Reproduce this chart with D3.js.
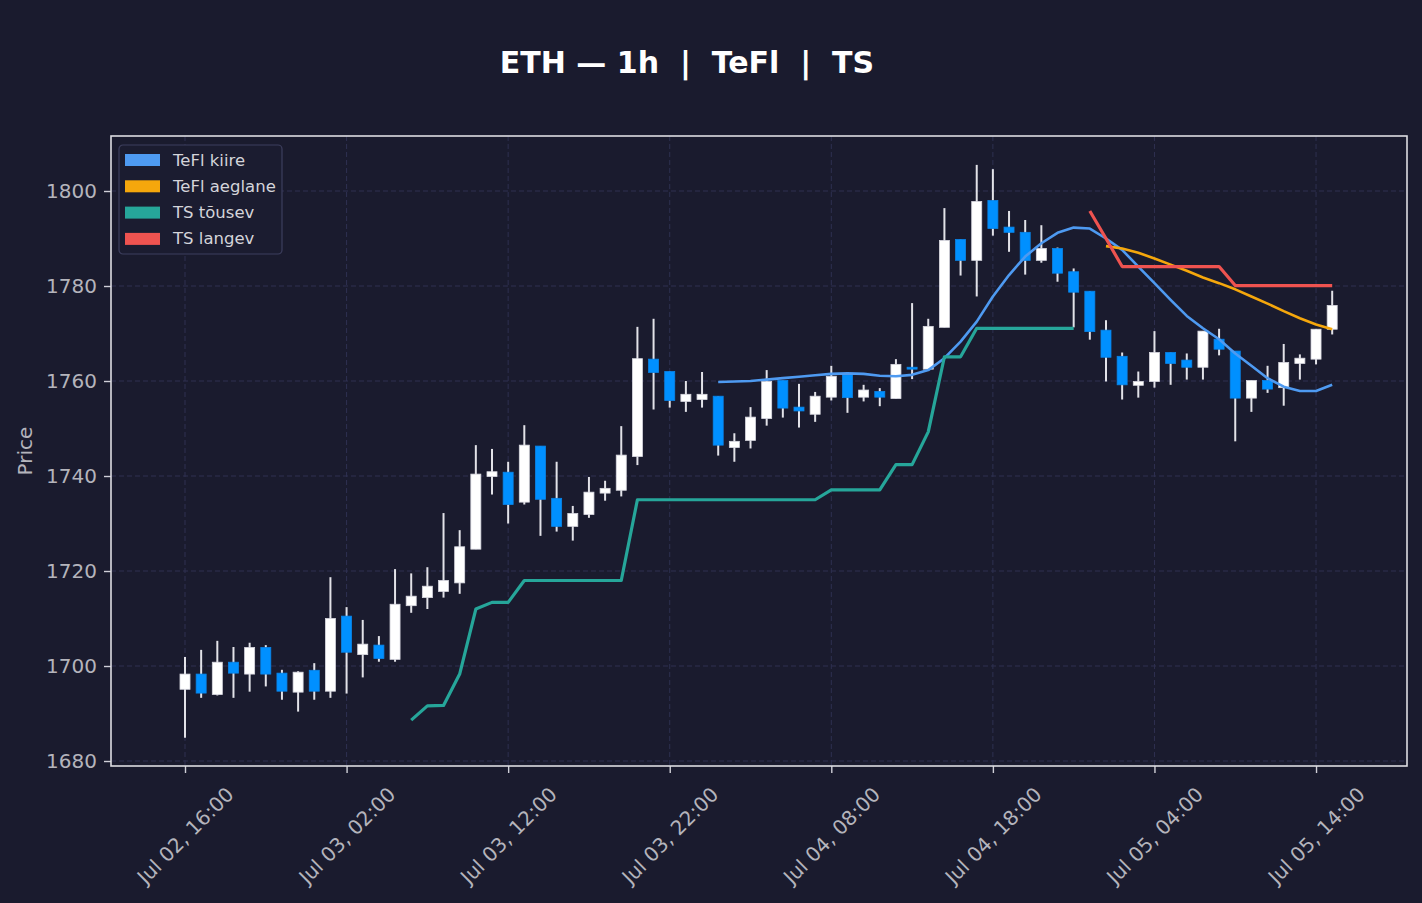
<!DOCTYPE html>
<html>
<head>
<meta charset="utf-8">
<script src="https://cdn.jsdelivr.net/npm/d3@7"></script>
<style>
  body { margin: 0; background: #1a1b2e; }
  svg { display: block; font-family: "DejaVu Sans", sans-serif; }
</style>
</head>
<body>
<svg width="1422" height="903"></svg>
<script>
// hourly candles, first one at Jul 02 16:00
const startTime = "2024-07-02T16:00:00Z";

const opens = [1695.1, 1698.3, 1694.0, 1700.8, 1698.3, 1703.9, 1698.5, 1694.5, 1699.1, 1694.7,
  1710.5, 1702.4, 1704.4, 1701.4, 1712.7, 1714.4, 1715.7, 1717.5, 1724.6, 1739.9,
  1740.8, 1734.5, 1746.3, 1735.3, 1729.4, 1731.9, 1736.4, 1737.0, 1744.1, 1764.6,
  1762.0, 1755.7, 1756.1, 1756.8, 1746.0, 1747.5, 1752.1, 1760.1, 1754.5, 1753.0,
  1756.6, 1761.3, 1756.6, 1757.8, 1756.3, 1762.9, 1762.5, 1771.3, 1789.8, 1785.4,
  1798.0, 1792.4, 1791.3, 1785.4, 1787.9, 1783.0, 1778.9, 1770.7, 1765.2, 1759.1,
  1759.9, 1766.0, 1764.4, 1762.9, 1768.8, 1766.3, 1756.4, 1760.1, 1758.6, 1763.7,
  1764.6, 1770.9];
const highs = [1701.9, 1703.4, 1705.3, 1704.0, 1704.9, 1704.4, 1699.2, 1698.9, 1700.6, 1718.7,
  1712.4, 1709.7, 1706.3, 1720.4, 1719.5, 1720.8, 1732.2, 1728.6, 1746.5, 1745.7,
  1743.0, 1750.7, 1746.3, 1743.0, 1733.7, 1739.8, 1739.0, 1750.5, 1771.4, 1773.1,
  1762.0, 1760.0, 1761.9, 1756.8, 1749.0, 1754.5, 1762.3, 1760.1, 1759.4, 1757.7,
  1763.2, 1761.3, 1759.2, 1758.5, 1764.6, 1776.4, 1773.1, 1796.4, 1789.8, 1805.5,
  1804.6, 1795.8, 1793.9, 1792.8, 1788.1, 1783.7, 1778.9, 1772.8, 1766.0, 1762.0,
  1770.5, 1766.0, 1765.8, 1770.5, 1771.0, 1766.3, 1760.1, 1763.2, 1767.8, 1765.6,
  1770.9, 1779.0];
const lows = [1684.9, 1693.3, 1693.8, 1693.3, 1694.6, 1695.7, 1692.9, 1690.4, 1692.9, 1693.3,
  1694.2, 1697.6, 1700.9, 1700.9, 1711.2, 1712.0, 1714.4, 1715.2, 1724.6, 1736.1,
  1730.0, 1734.0, 1727.4, 1728.3, 1726.4, 1731.2, 1734.8, 1735.7, 1742.3, 1754.0,
  1754.4, 1753.5, 1754.4, 1744.3, 1743.0, 1745.8, 1750.6, 1752.3, 1750.2, 1751.4,
  1755.9, 1753.3, 1755.7, 1754.7, 1756.3, 1760.4, 1762.5, 1771.3, 1782.2, 1777.8,
  1790.6, 1787.2, 1782.4, 1784.9, 1780.9, 1771.3, 1768.7, 1759.9, 1756.1, 1756.5,
  1758.6, 1759.2, 1760.3, 1760.3, 1765.4, 1747.3, 1753.5, 1757.5, 1754.8, 1760.3,
  1763.5, 1769.8];
const closes = [1698.3, 1694.3, 1700.8, 1698.5, 1703.9, 1698.3, 1694.7, 1698.7, 1694.7, 1710.0,
  1702.9, 1704.6, 1701.6, 1713.0, 1714.7, 1716.8, 1718.0, 1725.1, 1740.4, 1740.9,
  1734.0, 1746.5, 1735.1, 1729.4, 1732.1, 1736.6, 1737.4, 1744.4, 1764.7, 1761.8,
  1755.9, 1757.2, 1757.2, 1746.5, 1747.3, 1752.4, 1759.9, 1754.3, 1753.7, 1756.8,
  1761.0, 1756.5, 1758.1, 1756.6, 1763.5, 1762.5, 1771.5, 1789.6, 1785.4, 1797.8,
  1792.1, 1791.3, 1785.4, 1787.9, 1782.7, 1778.7, 1770.4, 1765.0, 1759.2, 1759.9,
  1766.0, 1763.7, 1762.9, 1770.5, 1766.7, 1756.4, 1760.1, 1758.3, 1763.9, 1764.8,
  1770.9, 1775.9];

const _ = null;
const teflFast = [_, _, _, _, _, _, _, _, _, _,
  _, _, _, _, _, _, _, _, _, _,
  _, _, _, _, _, _, _, _, _, _,
  _, _, _, 1759.8, 1759.9, 1760.0, 1760.3, 1760.6, 1760.9, 1761.2,
  1761.5, 1761.6, 1761.5, 1761.1, 1761.0, 1761.3, 1762.3, 1764.8, 1768.3, 1772.5,
  1777.8, 1782.3, 1786.2, 1789.0, 1791.2, 1792.3, 1792.1, 1790.0, 1787.6, 1784.1,
  1780.6, 1777.1, 1773.7, 1771.1, 1768.8, 1765.8, 1763.2, 1760.6, 1758.8, 1757.9,
  1757.9, 1759.2];
const teflSlow = [_, _, _, _, _, _, _, _, _, _,
  _, _, _, _, _, _, _, _, _, _,
  _, _, _, _, _, _, _, _, _, _,
  _, _, _, _, _, _, _, _, _, _,
  _, _, _, _, _, _, _, _, _, _,
  _, _, _, _, _, _, _, 1788.4, 1787.9, 1787.0,
  1785.8, 1784.5, 1783.2, 1781.8, 1780.6, 1779.3, 1777.8, 1776.3, 1774.7, 1773.2,
  1771.9, 1770.9];
const tsUp = [_, _, _, _, _, _, _, _, _, _,
  _, _, _, _, 1688.6, 1691.6, 1691.7, 1698.3, 1712.0, 1713.4,
  1713.4, 1718.0, 1718.0, 1718.0, 1718.0, 1718.0, 1718.0, 1718.0, 1735.0, 1735.0,
  1735.0, 1735.0, 1735.0, 1735.0, 1735.0, 1735.0, 1735.0, 1735.0, 1735.0, 1735.0,
  1737.1, 1737.1, 1737.1, 1737.1, 1742.4, 1742.4, 1749.3, 1765.1, 1765.1, 1771.1,
  1771.1, 1771.1, 1771.1, 1771.1, 1771.1, 1771.1, _, _, _, _,
  _, _, _, _, _, _, _, _, _, _,
  _, _];
const tsDown = [_, _, _, _, _, _, _, _, _, _,
  _, _, _, _, _, _, _, _, _, _,
  _, _, _, _, _, _, _, _, _, _,
  _, _, _, _, _, _, _, _, _, _,
  _, _, _, _, _, _, _, _, _, _,
  _, _, _, _, _, _, 1795.8, 1790.0, 1784.1, 1784.1,
  1784.1, 1784.1, 1784.1, 1784.1, 1784.1, 1780.1, 1780.1, 1780.1, 1780.1, 1780.1,
  1780.1, 1780.1];

const yTicks = [1680, 1700, 1720, 1740, 1760, 1780, 1800];
const xTicks = ["2024-07-02T16:00:00Z", "2024-07-03T02:00:00Z", "2024-07-03T12:00:00Z",
  "2024-07-03T22:00:00Z", "2024-07-04T08:00:00Z", "2024-07-04T18:00:00Z",
  "2024-07-05T04:00:00Z", "2024-07-05T14:00:00Z"];

const series = [
  { name: "TeFl kiire", values: teflFast, color: "#4e9af1", width: 2.6 },
  { name: "TeFl aeglane", values: teflSlow, color: "#f5a70c", width: 2.6 },
  { name: "TS tõusev", values: tsUp, color: "#26a69a", width: 3.2 },
  { name: "TS langev", values: tsDown, color: "#ef5350", width: 3.2 }
];

const svg = d3.select("svg");
const margin = { top: 136, right: 15, bottom: 137, left: 111 };
const width = +svg.attr("width") - margin.left - margin.right;
const height = +svg.attr("height") - margin.top - margin.bottom;

const t0 = new Date(startTime);
const times = opens.map((d, i) => d3.utcHour.offset(t0, i));
const candles = times.map((t, i) => ({ t: t, o: opens[i], h: highs[i], l: lows[i], c: closes[i] }));

const x = d3.scaleTime()
  .domain([new Date(+t0 - 4.58 * 3600e3), new Date(+t0 + 75.63 * 3600e3)])
  .range([0, width]);
const y = d3.scaleLinear().domain([1678.95, 1811.58]).range([height, 0]);

const g = svg.append("g")
  .attr("transform", "translate(" + margin.left + "," + margin.top + ")");

// grid
g.append("g").selectAll("line")
  .data(yTicks)
  .enter().append("line")
    .attr("x1", 0).attr("x2", width)
    .attr("y1", d => y(d)).attr("y2", d => y(d))
    .attr("stroke", "#2e3050").attr("stroke-width", 1).attr("stroke-dasharray", "5,3");
g.append("g").selectAll("line")
  .data(xTicks)
  .enter().append("line")
    .attr("x1", d => x(new Date(d))).attr("x2", d => x(new Date(d)))
    .attr("y1", 0).attr("y2", height)
    .attr("stroke", "#2e3050").attr("stroke-width", 1).attr("stroke-dasharray", "5,3");

// axes
const xAxis = g.append("g")
  .attr("transform", "translate(0," + height + ")")
  .call(d3.axisBottom(x).tickValues(xTicks.map(d => new Date(d)))
    .tickFormat(d3.utcFormat("%b %d, %H:%M")).tickSize(7).tickPadding(7));
xAxis.selectAll("text")
  .attr("fill", "#b4b4bc")
  .attr("text-anchor", "middle").attr("dy", null).attr("y", null)
  .attr("dominant-baseline", "central")
  .attr("transform", "translate(0,69.5) rotate(-45)");

const yAxis = g.append("g")
  .call(d3.axisLeft(y).tickValues(yTicks).tickFormat(d3.format("d")).tickSize(7).tickPadding(7));
yAxis.selectAll("text").attr("fill", "#b4b4bc");

[xAxis, yAxis].forEach(a => {
  a.attr("font-family", "DejaVu Sans").attr("font-size", 20);
  a.select(".domain").remove();
  a.selectAll(".tick line").attr("stroke", "#d0d0d8").attr("stroke-width", 1.4);
});

// candles
const bw = (x(times[1]) - x(times[0])) * 0.62;
const upColor = "#ffffff", downColor = "#0090ff";

g.selectAll(".wick")
  .data(candles)
  .enter().append("line")
    .attr("class", "wick")
    .attr("x1", d => x(d.t)).attr("x2", d => x(d.t))
    .attr("y1", d => y(d.h)).attr("y2", d => y(d.l))
    .attr("stroke", "#e2e2e8").attr("stroke-width", 2);

g.selectAll(".body")
  .data(candles)
  .enter().append("rect")
    .attr("class", "body")
    .attr("x", d => x(d.t) - bw / 2)
    .attr("y", d => y(Math.max(d.o, d.c)))
    .attr("width", bw)
    .attr("height", d => Math.max(1.5, Math.abs(y(d.o) - y(d.c))))
    .attr("fill", d => d.c >= d.o ? upColor : downColor)
    .attr("stroke", d => d.c >= d.o ? "#d8d8e0" : "#0a84e8")
    .attr("stroke-width", 0.8);

// indicator lines
const line = d3.line()
  .defined(d => d.v !== null)
  .x(d => x(d.t))
  .y(d => y(d.v));

series.forEach(s => {
  g.append("path")
    .datum(s.values.map((v, i) => ({ t: times[i], v: v })))
    .attr("fill", "none")
    .attr("stroke", s.color)
    .attr("stroke-width", s.width)
    .attr("stroke-linejoin", "round")
    .attr("d", line);
});

// frame
g.append("rect")
  .attr("width", width).attr("height", height)
  .attr("fill", "none").attr("stroke", "#dcdce2").attr("stroke-width", 1.6);

// legend
const legend = g.append("g").attr("transform", "translate(8,9)");
legend.append("rect")
  .attr("width", 163).attr("height", 109).attr("rx", 4)
  .attr("fill", "#1b1c30").attr("stroke", "#3d3f5e").attr("stroke-width", 1.2);
const item = legend.selectAll(".item")
  .data(series)
  .enter().append("g")
    .attr("class", "item")
    .attr("transform", (d, i) => "translate(6," + (9 + i * 26.3) + ")");
item.append("rect")
  .attr("width", 35).attr("height", 12)
  .attr("fill", d => d.color);
item.append("text")
  .attr("x", 48).attr("y", 6)
  .attr("dominant-baseline", "central")
  .attr("font-size", 16.5).attr("fill", "#d4d4da")
  .text(d => d.name);

// titles
svg.append("text")
  .attr("x", 687).attr("y", 73)
  .attr("text-anchor", "middle")
  .attr("font-size", 30).attr("font-weight", "bold").attr("fill", "#ffffff")
  .style("white-space", "pre")
  .text("ETH — 1h  |  TeFl  |  TS");

svg.append("text")
  .attr("transform", "translate(32," + (margin.top + height / 2) + ") rotate(-90)")
  .attr("text-anchor", "middle")
  .attr("font-size", 20).attr("fill", "#b4b4bc")
  .text("Price");
</script>
</body>
</html>
